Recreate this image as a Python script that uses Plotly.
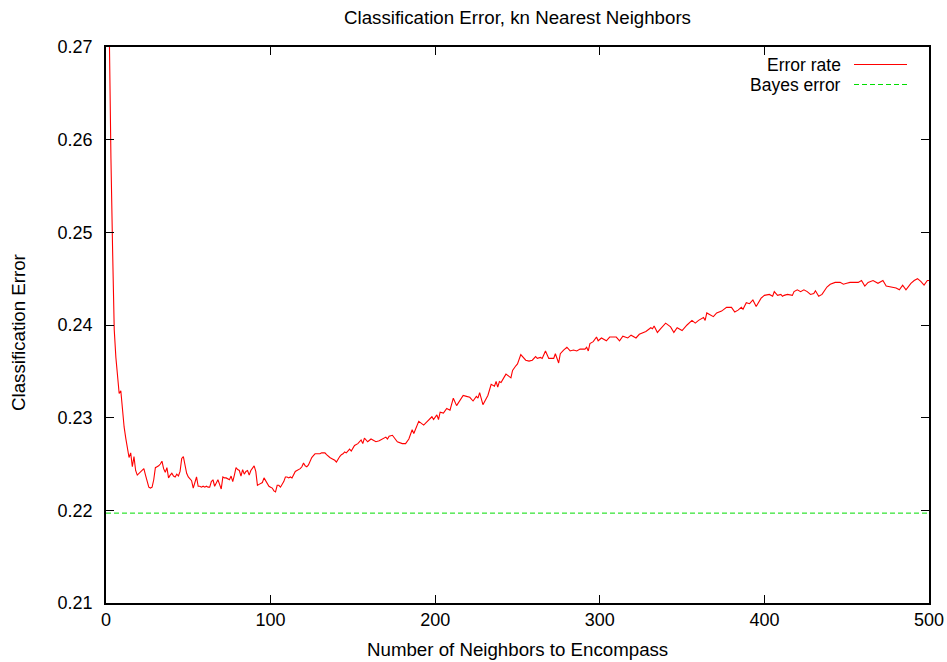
import plotly.graph_objects as go

# ---- data ----
k_early = list(range(1, 146))
err_early = [
    0.2850, 0.2700, 0.2580, 0.2482, 0.2395, 0.2365, 0.2345, 0.2326, 0.2329, 0.2305,
    0.2290, 0.2278, 0.2266, 0.2257, 0.2262, 0.2247, 0.2258, 0.2243, 0.2238, 0.2240,
    0.2242, 0.2244, 0.2245, 0.2238, 0.2230, 0.2225, 0.2224, 0.2225, 0.2233, 0.2246,
    0.2247, 0.2248, 0.2250, 0.2253, 0.2245, 0.2241, 0.2246, 0.2235, 0.2238, 0.2240,
    0.2237, 0.2236, 0.2239, 0.2237, 0.2242, 0.2256, 0.2258, 0.2247, 0.2240, 0.2236,
    0.2234, 0.2232, 0.2224, 0.2230, 0.2236, 0.2226, 0.2226, 0.2225, 0.2226, 0.2225,
    0.2226, 0.2225, 0.2225, 0.2231, 0.2233, 0.2226, 0.2229, 0.2233, 0.2228, 0.2223,
    0.2236, 0.2235, 0.2235, 0.2234, 0.2233, 0.2237, 0.2231, 0.2238, 0.2246, 0.2244,
    0.2243, 0.2237, 0.2244, 0.2239, 0.2242, 0.2243, 0.2238, 0.2243, 0.2245, 0.2248,
    0.2242, 0.2227, 0.2228, 0.2229, 0.2230, 0.2235, 0.2232, 0.2228, 0.2226, 0.2225,
    0.2224, 0.2221, 0.2220, 0.2227, 0.2227, 0.2225, 0.2228, 0.2231, 0.2236, 0.2236,
    0.2235, 0.2236, 0.2235, 0.2239, 0.2242, 0.2243, 0.2244, 0.2245, 0.2247, 0.2251,
    0.2248, 0.2247, 0.2249, 0.2253, 0.2257, 0.2259, 0.2261, 0.2261, 0.2261, 0.2261,
    0.2262, 0.2262, 0.2262, 0.2260, 0.2258, 0.2257, 0.2256, 0.2255, 0.2254, 0.2252,
    0.2256, 0.2258, 0.2260, 0.2261, 0.2263,
]

k_late = [
    146, 148, 149, 151, 153, 155, 156, 157, 159, 161, 164, 166, 168, 170, 171, 172, 174,
    177, 180, 182, 184, 186, 187, 188, 190, 193, 196, 198, 199, 201, 202, 203, 205, 207,
    209, 210, 211, 213, 215, 217, 219, 221, 223, 225, 226, 227, 229, 231, 232, 234, 236,
    237, 238, 239, 240, 242, 243, 246, 247, 249, 250, 252, 255, 257, 259, 261, 262, 264,
    265, 267, 269, 272, 273, 275, 276, 278, 280, 282, 284, 286, 288, 291, 292, 293, 294,
    296, 298, 299, 301, 304, 306, 310, 312, 314, 317, 319, 322, 324, 328, 331, 332, 333,
    335, 337, 340, 343, 345, 347, 350, 353, 356, 358, 360, 363, 364, 365, 367, 369, 371,
    374, 377, 380, 382, 384, 386, 387, 389, 391, 393, 395, 398, 400, 403, 405, 406, 408,
    410, 411, 412, 414, 417, 418, 420, 422, 424, 426, 428, 430, 431, 433, 435, 438, 440,
    443, 446, 448, 450, 452, 455, 457, 459, 461, 463, 466, 469, 470, 472, 474, 477, 480,
    482, 484, 486, 489, 491, 493, 495, 497, 499, 500,
]
err_late = [
    0.2262, 0.2266, 0.2264, 0.2270, 0.2272, 0.2276, 0.2272, 0.2278, 0.2274, 0.2277, 0.2274,
    0.2275, 0.2277, 0.2279, 0.2277, 0.2280, 0.2281, 0.2274, 0.2272, 0.2272, 0.2277, 0.2287,
    0.2283, 0.2288, 0.2296, 0.2292, 0.2298, 0.2301, 0.2298, 0.2303, 0.2298, 0.2306, 0.2305,
    0.2310, 0.2308, 0.2314, 0.2321, 0.2313, 0.2319, 0.2324, 0.2323, 0.2322, 0.2318, 0.2323,
    0.2321, 0.2327, 0.2314, 0.2321, 0.2324, 0.2336, 0.2334, 0.2339, 0.2333, 0.2339, 0.2338,
    0.2344, 0.2347, 0.2343, 0.2351, 0.2356, 0.2358, 0.2368, 0.2362, 0.2361, 0.2362, 0.2366,
    0.2364, 0.2365, 0.2364, 0.2372, 0.2364, 0.2364, 0.2369, 0.2359, 0.2369, 0.2373, 0.2376,
    0.2372, 0.2373, 0.2372, 0.2374, 0.2374, 0.2376, 0.2372, 0.2380, 0.2382, 0.2387, 0.2383,
    0.2386, 0.2383, 0.2387, 0.2387, 0.2383, 0.2388, 0.2386, 0.2389, 0.2386, 0.2390, 0.2393,
    0.2397, 0.2396, 0.2399, 0.2392, 0.2396, 0.2402, 0.2398, 0.2392, 0.2397, 0.2394, 0.2400,
    0.2405, 0.2402, 0.2405, 0.2408, 0.2405, 0.2413, 0.2411, 0.2409, 0.2413, 0.2415, 0.2419,
    0.2419, 0.2414, 0.2416, 0.2419, 0.2417, 0.2424, 0.2423, 0.2427, 0.2420, 0.2429, 0.2432,
    0.2433, 0.2431, 0.2436, 0.2432, 0.2433, 0.2431, 0.2432, 0.2433, 0.2432, 0.2436, 0.2438,
    0.2436, 0.2438, 0.2436, 0.2433, 0.2434, 0.2437, 0.2431, 0.2433, 0.2441, 0.2444, 0.2446,
    0.2446, 0.2444, 0.2445, 0.2446, 0.2446, 0.2446, 0.2448, 0.2442, 0.2446, 0.2448, 0.2445,
    0.2446, 0.2448, 0.2442, 0.2441, 0.2440, 0.2438, 0.2443, 0.2438, 0.2445, 0.2448, 0.2450,
    0.2447, 0.2443, 0.2448, 0.2448,
]

neighbors = k_early + k_late
error_rate = err_early + err_late

bayes_x = [0, 500]
bayes_error = 0.2197

x_ticks = [0, 100, 200, 300, 400, 500]
y_ticks = [0.21, 0.22, 0.23, 0.24, 0.25, 0.26, 0.27]

title_text = "Classification Error, kn Nearest Neighbors"
x_label = "Number of Neighbors to Encompass"
y_label = "Classification Error"
legend_labels = ["Error rate", "Bayes error"]

RED = "#ff0000"
GREEN = "#00dd00"
FONT = "Liberation Sans, Arial, Helvetica, sans-serif"
TXT = 18.7
LEG_TXT = 17.5

fig = go.Figure()
fig.add_trace(go.Scatter(x=neighbors, y=error_rate, mode="lines",
                         line=dict(color=RED, width=1.1), name=legend_labels[0],
                         showlegend=False))
fig.add_trace(go.Scatter(x=bayes_x, y=[bayes_error] * len(bayes_x), mode="lines",
                         line=dict(color=GREEN, width=1, dash="5px,3px"),
                         name=legend_labels[1], showlegend=False))

axis_common = dict(
    showline=True, linecolor="#000000", linewidth=1.5, mirror="allticks",
    ticks="inside", ticklen=8, tickwidth=1, tickcolor="#000000",
    showgrid=False, zeroline=False, automargin=False,
    tickfont=dict(family=FONT, size=18, color="#000000"),
)

fig.update_xaxes(range=[0, 500], tickvals=x_ticks, ticktext=[str(v) for v in x_ticks],
                 **axis_common)
fig.update_yaxes(range=[0.21, 0.27], tickvals=y_ticks,
                 ticktext=["%.2f" % v for v in y_ticks], ticklabelstandoff=8,
                 **axis_common)

W, H = 947, 662
L, R, T, B = 106, 18, 47, 59
pw, ph = W - L - R, H - T - B

def px_x(px):
    return (px - L) / pw

def px_y(py):
    return (H - B - py) / ph

annotations = [
    dict(text=x_label, x=px_x(517.5), y=px_y(649), xref="paper", yref="paper",
         xanchor="center", yanchor="middle", showarrow=False,
         font=dict(family=FONT, size=TXT, color="#000000")),
    dict(text=y_label, x=px_x(18), y=px_y(333), xref="paper", yref="paper",
         xanchor="center", yanchor="middle", textangle=-90, showarrow=False,
         font=dict(family=FONT, size=TXT, color="#000000")),
]
shapes = []
legend_colors = [RED, GREEN]
legend_dash = ["solid", "5px,3px"]
legend_rows = [64.5, 84.5]
for lab, col, dsh, row in zip(legend_labels, legend_colors, legend_dash, legend_rows):
    annotations.append(dict(text=lab, x=px_x(842), y=px_y(row), xref="paper", yref="paper",
                            xanchor="right", yanchor="middle", showarrow=False,
                            borderpad=0,
                            font=dict(family=FONT, size=LEG_TXT, color="#000000")))
    shapes.append(dict(type="line", xref="paper", yref="paper",
                       x0=px_x(854), x1=px_x(907), y0=px_y(row), y1=px_y(row),
                       line=dict(color=col, width=1.1, dash=dsh)))

fig.update_layout(
    width=W, height=H,
    margin=dict(l=L, r=R, t=T, b=B, autoexpand=False),
    paper_bgcolor="#ffffff", plot_bgcolor="#ffffff",
    title=dict(text=title_text, x=px_x(517.5), xref="paper", y=(H - 17) / H,
               yref="container", xanchor="center", yanchor="middle",
               font=dict(family=FONT, size=TXT, color="#000000")),
    annotations=annotations, shapes=shapes,
    showlegend=False,
)

fig.write_html("out.html")
